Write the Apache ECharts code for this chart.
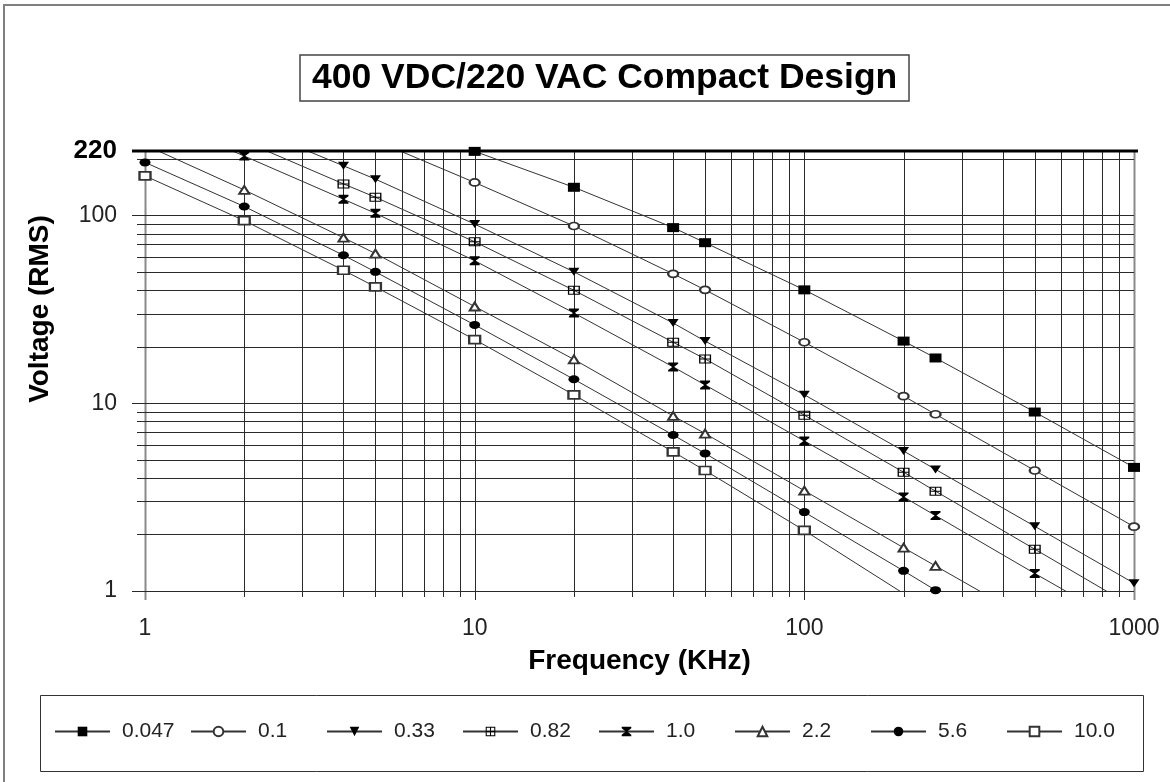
<!DOCTYPE html>
<html><head><meta charset="utf-8">
<script src="https://cdn.jsdelivr.net/npm/echarts@6/dist/echarts.min.js"></script>
<style>html,body{margin:0;padding:0;background:#fff}#c{width:1170px;height:782px}</style>
</head><body><div id="c"></div>
<script>
// ---------- data ----------
const freqs = [1, 2, 4, 5, 10, 20, 40, 50, 100, 200, 250, 500, 1000];
const seriesNames = ['0.047', '0.1', '0.33', '0.82', '1.0', '2.2', '5.6', '10.0'];
// values aligned with freqs (null = no point); values above 220 / below 1 are clipped by the axes
const v0047 = [null, null, null, null, 219, 141, 86, 71.5, 40.1, 21.4, 17.4, 8.97, 4.55];
const v01   = [null, null, null, 250, 149.6, 87.7, 48.8, 40.1, 21.1, 10.9, 8.73, 4.38, 2.2];
const v033  = [null, 304, 183.5, 155.8, 89.8, 50.0, 26.7, 21.4, 11.08, 5.56, 4.44, 2.21, 1.10];
const v082  = [null, 248, 147, 124.8, 72.3, 39.9, 21.1, 17.2, 8.63, 4.29, 3.40, 1.67, 0.82];
const v10   = [350, 206.8, 121.8, 102.5, 57.3, 30.2, 15.6, 12.5, 6.29, 3.17, 2.52, 1.24, 0.62];
const v22   = [237, 136.5, 76.0, 62.6, 32.7, 17.1, 8.55, 6.89, 3.42, 1.70, 1.36, 0.68, null];
const v56   = [191.3, 111.4, 61.3, 50.0, 26.1, 13.4, 6.77, 5.40, 2.63, 1.28, 1.01, null, null];
const v100  = [162.2, 93.7, 51.0, 41.6, 21.8, 11.07, 5.51, 4.38, 2.10, 0.97, null, null, null];
const allValues = [v0047, v01, v033, v082, v10, v22, v56, v100];

const xMin = 1, xMax = 1000, yMin = 1, yMax = 220;
const xMajor = [1, 10, 100, 1000];
const yMajor = [1, 10, 100, 220];
const xGrid = [1,2,3,4,5,6,7,8,9,10,20,30,40,50,60,70,80,90,100,200,300,400,500,600,700,800,900,1000];
const yGrid = [1,2,3,4,5,6,7,8,9,10,20,30,40,50,60,70,80,90,100,200];

// ---------- styles ----------
const FONT = "'Liberation Sans', Arial, Helvetica, sans-serif";
const symbols = [
  'rect',
  'emptyCircle',
  'path://M0,0L10,0L5,9Z',
  'path://M0,0H10V10H0Z M1.1,1.1V4.45H4.45V1.1Z M5.55,1.1V4.45H8.9V1.1Z M1.1,5.55V8.9H4.45V5.55Z M5.55,5.55V8.9H8.9V5.55Z',
  'path://M0,0H10V1.6L5.8,5L10,8.4V10H0V8.4L4.2,5L0,1.6Z',
  'emptyTriangle',
  'circle',
  'emptyRect'
];
const symSizes = [[12,9],[10,7],[11,8],[12,9],[10,9],[10,8],[11,8],[11,8]];

const chart = echarts.init(document.getElementById('c'), null, {renderer: 'canvas'});

const lineSeries = seriesNames.map((n, i) => ({
  type: 'line',
  name: n,
  data: freqs.map((f, j) => allValues[i][j] == null ? null : [f, allValues[i][j]]).filter(d => d),
  symbol: symbols[i],
  symbolSize: symSizes[i],
  showAllSymbol: true,
  clip: true,
  z: 3,
  lineStyle: {color: '#333', width: 1},
  itemStyle: {color: (symbols[i].indexOf('empty') === 0) ? '#333' : '#000', borderColor: '#333',
    borderWidth: (symbols[i].indexOf('empty') === 0) ? 0.9 : 0},
  emphasis: {disabled: true},
  animation: false
}));

const vGridSeries = {
  type: 'custom', name: 'vgrid', silent: true, z: 1, clip: false, animation: false,
  data: xGrid.map(v => [v, yMin]),
  encode: {x: 0, y: 1},
  renderItem: (params, api) => {
    const v = api.value(0);
    const a = api.coord([v, yMin]), b = api.coord([v, yMax]);
    const major = xMajor.indexOf(v) >= 0;
    const edge = (v === xMin || v === xMax);
    const x = Math.round(a[0]) + 0.5;
    return {type: 'line', shape: {x1: x, y1: a[1] + (major ? 9 : 6), x2: x, y2: b[1]},
      style: {stroke: edge ? '#8a8a8a' : '#2a2a2a', lineWidth: edge ? 2 : 1}};
  }
};
const hGridSeries = {
  type: 'custom', name: 'hgrid', silent: true, z: 1, clip: false, animation: false,
  data: yGrid.map(v => [xMin, v]),
  encode: {x: 0, y: 1},
  renderItem: (params, api) => {
    const v = api.value(1);
    const a = api.coord([xMin, v]), b = api.coord([xMax, v]);
    const major = yMajor.indexOf(v) >= 0;
    const y = Math.round(a[1]) + 0.5;
    return {type: 'line', shape: {x1: a[0] - (major ? 13 : 8), y1: y, x2: b[0], y2: y},
      style: {stroke: '#2a2a2a', lineWidth: 1}};
  }
};
const topSeries = {
  type: 'custom', name: 'top', silent: true, z: 4, clip: false, animation: false,
  data: [[xMin, yMax]],
  encode: {x: 0, y: 1},
  renderItem: (params, api) => {
    const a = api.coord([xMin, yMax]), b = api.coord([xMax, yMax]);
    return {type: 'line', shape: {x1: a[0] - 13, y1: a[1], x2: b[0] + 4, y2: b[1]},
      style: {stroke: '#000', lineWidth: 3}};
  }
};

const legends = seriesNames.map((n, i) => ({
  data: [n],
  left: 54 + 136 * i,
  top: 721,
  padding: 0,
  itemWidth: 55,
  itemHeight: 12,
  selectedMode: false,
  textStyle: {fontSize: 21, color: '#222', fontFamily: FONT, padding: [0, 0, 0, 7]}
}));

chart.setOption({
  animation: false,
  backgroundColor: '#fff',
  title: {
    text: '400 VDC/220 VAC Compact Design',
    left: 300, top: 55, padding: [5, 12],
    borderColor: '#444', borderWidth: 1.5,
    textStyle: {fontSize: 35.5, fontWeight: 'bold', color: '#000', fontFamily: FONT}
  },
  grid: {left: 145, right: 36, top: 151, bottom: 191, containLabel: false, outerBoundsMode: 'none'},
  xAxis: {
    type: 'log', logBase: 10, min: xMin, max: xMax,
    name: 'Frequency (KHz)', nameLocation: 'middle', nameGap: 56,
    nameTextStyle: {fontSize: 28, fontWeight: 'bold', color: '#000', fontFamily: FONT},
    axisLine: {show: false}, axisTick: {show: false}, splitLine: {show: false}, minorTick: {show: false},
    axisLabel: {fontSize: 23, color: '#222', fontFamily: FONT, margin: 26,
      formatter: v => String(Math.round(v))}
  },
  yAxis: {
    type: 'log', logBase: 10, min: yMin, max: yMax,
    axisLine: {show: false}, axisTick: {show: false}, splitLine: {show: false}, minorTick: {show: false},
    axisLabel: {fontSize: 23, color: '#222', fontFamily: FONT, margin: 28,
      showMaxLabel: true,
      formatter: v => Math.round(v) === 220 ? '{b|220}' : String(Math.round(v)),
      rich: {b: {fontSize: 26, fontWeight: 'bold', color: '#000', fontFamily: FONT}}}
  },
  legend: legends,
  graphic: [
    {type: 'rect', silent: true, z: 0, shape: {x: 4, y: 5, width: 1200, height: 800},
      style: {fill: 'none', stroke: '#808080', lineWidth: 2}},
    {type: 'rect', silent: true, z: 0, shape: {x: 40.5, y: 695.5, width: 1103, height: 76},
      style: {fill: 'none', stroke: '#333', lineWidth: 1}},
    {type: 'text', silent: true, x: 40, y: 309, rotation: Math.PI / 2,
      style: {text: 'Voltage (RMS)', fontSize: 28, fontWeight: 'bold', fill: '#000', fontFamily: FONT,
        textAlign: 'center', textVerticalAlign: 'middle'}}
  ],
  series: [vGridSeries, hGridSeries].concat(lineSeries).concat([topSeries])
});
</script>
</body></html>
